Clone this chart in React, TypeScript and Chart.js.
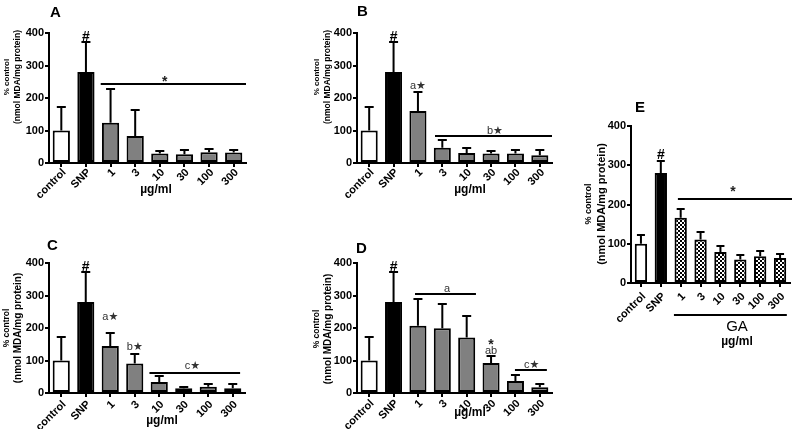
import React, { useEffect, useRef } from 'react';
import { Chart, registerables } from 'chart.js';
Chart.register(...registerables);

const FAMILY = '"Liberation Sans", Arial, "DejaVu Sans", sans-serif';

// ---------- data ----------
const categories = ['control', 'SNP', '1', '3', '10', '30', '100', '300'];

const aValues = [100, 280, 124, 83, 29, 27, 33, 32];
const aErrors = [71, 92, 103, 79, 8, 12, 11, 9];

const bValues = [100, 280, 160, 47, 31, 29, 29, 24];
const bErrors = [71, 92, 60, 23, 14, 8, 10, 15];

const cValues = [100, 280, 145, 91, 34, 15, 19, 15];
const cErrors = [71, 92, 39, 29, 18, 4, 8, 14];

const dValues = [100, 280, 207, 199, 171, 92, 37, 18];
const dErrors = [71, 92, 82, 74, 66, 23, 18, 10];

const eValues = [100, 280, 166, 111, 79, 60, 68, 64];
const eErrors = [22, 31, 22, 18, 16, 11, 14, 9];

const yTicks = [0, 100, 200, 300, 400];

// significance lines: from/to in category index units, value in data units
const aSig = [{ from: 1.6, to: 7.5, value: 243 }];
const bSig = [{ from: 2.7, to: 7.5, value: 82 }];
const cSig = [{ from: 3.6, to: 7.3, value: 63 }];
const dSig = [
  { from: 1.88, to: 4.38, value: 305 },
  { from: 5.98, to: 7.29, value: 70 },
];
const eSig = [{ from: 1.86, to: 7.6, value: 213 }];

// text marks: idx (category units), value (data units)
const aMarks = [
  { idx: 1, value: 388, text: '#', kind: 'hash' },
  { idx: 4.2, value: 258, text: '*', kind: 'ast' },
];
const bMarks = [
  { idx: 1, value: 388, text: '#', kind: 'hash' },
  { idx: 2, value: 237, text: 'a★', kind: 'star' },
  { idx: 5.16, value: 98, text: 'b★', kind: 'star' },
];
const cMarks = [
  { idx: 1, value: 386, text: '#', kind: 'hash' },
  { idx: 2, value: 233, text: 'a★', kind: 'star' },
  { idx: 3, value: 142, text: 'b★', kind: 'star' },
  { idx: 5.35, value: 84, text: 'c★', kind: 'star' },
];
const dMarks = [
  { idx: 1, value: 386, text: '#', kind: 'hash' },
  { idx: 3.19, value: 320, text: 'a', kind: 'star' },
  { idx: 5, value: 130, text: 'ab', kind: 'star' },
  { idx: 5, value: 155, text: '*', kind: 'ast' },
  { idx: 6.67, value: 86, text: 'c★', kind: 'star' },
];
const eMarks = [
  { idx: 1, value: 326, text: '#', kind: 'hash' },
  { idx: 4.63, value: 238, text: '*', kind: 'ast' },
];

type Panel = {
  key: string;
  left: number; top: number; width: number; height: number;
  area: { left: number; top: number; right: number; bottom: number };
  letter: string; letterX: number; letterY: number;
  t1x: number; t2x: number; tY: number; t1s: number; t2s: number;
  unitX: number; unitY: number; tickPad: number;
  values: number[]; errors: number[];
  sigs: { from: number; to: number; value: number }[];
  marks: { idx: number; value: number; text: string; kind: string }[];
  barPct: number; cap: number; pattern?: boolean;
  ga?: { lineY: number; from: number; to: number; textY: number };
};

const panels: Panel[] = [
  {
    key: 'A', left: 0, top: 0, width: 260, height: 210,
    area: { left: 49, top: 33, right: 246, bottom: 163 },
    letter: 'A', letterX: 50, letterY: 17,
    t1x: 7, t2x: 18, tY: 77, t1s: 8, t2s: 8.5,
    unitX: 156, unitY: 190, tickPad: -1,
    values: aValues, errors: aErrors, sigs: aSig, marks: aMarks,
    barPct: 0.7, cap: 4.5,
  },
  {
    key: 'B', left: 260, top: 0, width: 300, height: 210,
    area: { left: 97, top: 33, right: 292, bottom: 163 },
    letter: 'B', letterX: 97, letterY: 16,
    t1x: 57, t2x: 68, tY: 77, t1s: 8, t2s: 8.5,
    unitX: 210, unitY: 190, tickPad: -1,
    values: bValues, errors: bErrors, sigs: bSig, marks: bMarks,
    barPct: 0.7, cap: 4.5,
  },
  {
    key: 'C', left: 0, top: 210, width: 260, height: 219,
    area: { left: 49, top: 53, right: 245, bottom: 183 },
    letter: 'C', letterX: 47, letterY: 40,
    t1x: 7, t2x: 18, tY: 118, t1s: 8.5, t2s: 10,
    unitX: 162, unitY: 211, tickPad: 1,
    values: cValues, errors: cErrors, sigs: cSig, marks: cMarks,
    barPct: 0.7, cap: 4.5,
  },
  {
    key: 'D', left: 260, top: 210, width: 300, height: 219,
    area: { left: 97, top: 53, right: 292, bottom: 183 },
    letter: 'D', letterX: 96, letterY: 43,
    t1x: 57, t2x: 68, tY: 119, t1s: 8.5, t2s: 10,
    unitX: 210, unitY: 203, tickPad: 0,
    values: dValues, errors: dErrors, sigs: dSig, marks: dMarks,
    barPct: 0.7, cap: 4.5,
  },
  {
    key: 'E', left: 560, top: 100, width: 235, height: 260,
    area: { left: 71, top: 26, right: 230, bottom: 183 },
    letter: 'E', letterX: 75, letterY: 12,
    t1x: 29, t2x: 42, tY: 104, t1s: 9, t2s: 11,
    unitX: 177, unitY: 242, tickPad: 3,
    values: eValues, errors: eErrors, sigs: eSig, marks: eMarks,
    barPct: 0.62, cap: 4, pattern: true,
    ga: { lineY: 215, from: 1.66, to: 7.34, textY: 227 },
  },
];

function makePattern(ctx: CanvasRenderingContext2D) {
  const pc = document.createElement('canvas');
  pc.width = 4; pc.height = 4;
  const g = pc.getContext('2d')!;
  g.fillStyle = '#fff'; g.fillRect(0, 0, 4, 4);
  g.fillStyle = '#000'; g.fillRect(0, 0, 2, 2); g.fillRect(2, 2, 2, 2);
  return ctx.createPattern(pc, 'repeat');
}

function PanelChart({ p }: { p: Panel }) {
  const ref = useRef<HTMLCanvasElement>(null);
  useEffect(() => {
    const canvas = ref.current!;
    const ctx0 = canvas.getContext('2d')!;
    const pat = p.pattern ? makePattern(ctx0) : null;
    const colors = categories.map((_, i) =>
      i === 0 ? '#ffffff' : i === 1 ? '#000000' : (pat || '#808080'));

    const overlay = {
      id: 'overlay',
      afterDatasetsDraw(chart: any) {
        const ctx = chart.ctx as CanvasRenderingContext2D;
        const xs = chart.scales.x, ys = chart.scales.y;
        const meta = chart.getDatasetMeta(0);
        ctx.save();
        ctx.strokeStyle = '#000';
        ctx.lineWidth = 2;
        meta.data.forEach((bar: any, i: number) => {
          const top = ys.getPixelForValue(p.values[i]);
          const et = Math.round(ys.getPixelForValue(p.values[i] + p.errors[i]));
          const cx = bar.x;
          ctx.beginPath();
          ctx.moveTo(cx, top);
          ctx.lineTo(cx, et);
          ctx.moveTo(cx - p.cap, et);
          ctx.lineTo(cx + p.cap, et);
          ctx.stroke();
        });
        p.sigs.forEach((s) => {
          const yy = Math.round(ys.getPixelForValue(s.value));
          ctx.beginPath();
          ctx.moveTo(xs.getPixelForValue(s.from), yy);
          ctx.lineTo(xs.getPixelForValue(s.to), yy);
          ctx.stroke();
        });
        ctx.textAlign = 'center';
        ctx.textBaseline = 'middle';
        p.marks.forEach((m) => {
          const px = xs.getPixelForValue(m.idx);
          const py = ys.getPixelForValue(m.value);
          if (m.kind === 'hash') {
            ctx.fillStyle = '#000';
            ctx.font = `bold 14px ${FAMILY}`;
            ctx.fillText(m.text, px, py);
          } else if (m.kind === 'ast') {
            ctx.fillStyle = '#222';
            ctx.font = `bold 14px ${FAMILY}`;
            ctx.fillText(m.text, px, py + 3);
          } else {
            ctx.fillStyle = '#333';
            ctx.font = `11px ${FAMILY}`;
            ctx.fillText(m.text, px, py);
          }
        });
        if (p.ga) {
          ctx.beginPath();
          ctx.moveTo(xs.getPixelForValue(p.ga.from), p.ga.lineY);
          ctx.lineTo(xs.getPixelForValue(p.ga.to), p.ga.lineY);
          ctx.stroke();
          ctx.fillStyle = '#000';
          ctx.font = `15px ${FAMILY}`;
          ctx.fillText('GA', p.unitX, p.ga.textY);
        }
        ctx.restore();
      },
      afterDraw(chart: any) {
        const ctx = chart.ctx as CanvasRenderingContext2D;
        ctx.save();
        ctx.fillStyle = '#000';
        ctx.textAlign = 'left';
        ctx.textBaseline = 'alphabetic';
        ctx.font = `bold 15px ${FAMILY}`;
        ctx.fillText(p.letter, p.letterX, p.letterY);
        ctx.textAlign = 'center';
        ctx.textBaseline = 'middle';
        ctx.font = `bold 12px ${FAMILY}`;
        ctx.fillText('µg/ml', p.unitX, p.unitY);
        ctx.save();
        ctx.translate(p.t1x, p.tY);
        ctx.rotate(-Math.PI / 2);
        ctx.font = `bold ${p.t1s}px ${FAMILY}`;
        ctx.fillText('% control', 0, 0);
        ctx.restore();
        ctx.save();
        ctx.translate(p.t2x, p.tY);
        ctx.rotate(-Math.PI / 2);
        ctx.font = `bold ${p.t2s}px ${FAMILY}`;
        ctx.fillText('(nmol MDA/mg protein)', 0, 0);
        ctx.restore();
        ctx.restore();
      },
    };

    const chart = new Chart(canvas, {
      type: 'bar',
      data: {
        labels: categories,
        datasets: [{
          data: p.values,
          backgroundColor: colors as any,
          borderColor: '#000',
          borderWidth: 2,
          borderSkipped: false,
          barPercentage: p.barPct,
          categoryPercentage: 1,
        }],
      },
      options: {
        responsive: false,
        animation: false,
        devicePixelRatio: 1,
        layout: {
          padding: { left: 0, top: p.area.top, right: p.width - p.area.right, bottom: 0 },
        },
        plugins: { legend: { display: false }, tooltip: { enabled: false } },
        scales: {
          x: {
            type: 'category',
            offset: true,
            grid: { display: true, drawOnChartArea: false, drawTicks: true, tickLength: 4, color: '#000', lineWidth: 2, offset: false },
            border: { display: true, color: '#000', width: 2 },
            ticks: { color: '#000', font: { family: FAMILY, size: 11, weight: 'bold' }, minRotation: 45, maxRotation: 45, padding: p.tickPad, labelOffset: 3, autoSkip: false },
            afterFit(s: any) { s.height = p.height - p.area.bottom; },
          },
          y: {
            min: 0, max: 400,
            afterBuildTicks(s: any) { s.ticks = yTicks.map((v) => ({ value: v })); },
            ticks: { color: '#000', font: { family: FAMILY, size: 11, weight: 'bold' }, padding: 1 },
            grid: { display: true, drawOnChartArea: false, drawTicks: true, tickLength: 4, color: '#000', lineWidth: 2 },
            border: { display: true, color: '#000', width: 2 },
            afterFit(s: any) { s.width = p.area.left; },
          },
        },
      } as any,
      plugins: [overlay],
    });
    return () => chart.destroy();
  }, [p]);
  return (
    <canvas
      ref={ref}
      width={p.width}
      height={p.height}
      style={{ position: 'absolute', left: p.left, top: p.top, width: p.width, height: p.height }}
    />
  );
}

export default function App() {
  return (
    <div style={{ position: 'fixed', left: 0, top: 0, width: 795, height: 429, background: '#fff', overflow: 'hidden' }}>
      {panels.map((p) => <PanelChart key={p.key} p={p} />)}
    </div>
  );
}
